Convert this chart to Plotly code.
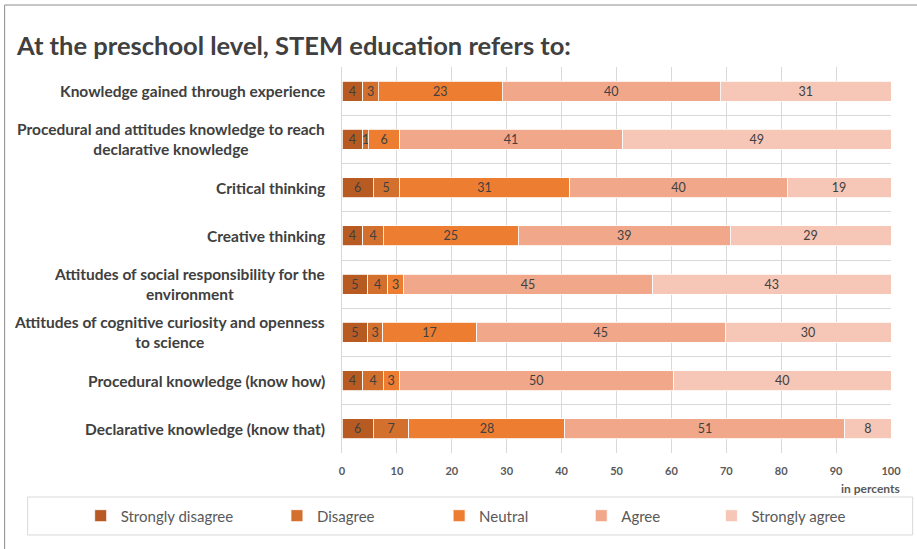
import plotly.graph_objects as go

categories = [
    "Knowledge gained through experience",
    "Procedural and attitudes knowledge to reach<br>declarative knowledge",
    "Critical thinking",
    "Creative thinking",
    "Attitudes of social responsibility for the<br>environment",
    "Attitudes of cognitive curiosity and openness<br>to science",
    "Procedural knowledge (know how)",
    "Declarative knowledge (know that)",
]
series_names = ["Strongly disagree", "Disagree", "Neutral", "Agree", "Strongly agree"]
strongly_disagree = [3.8, 3.8, 5.7, 3.8, 4.7, 4.7, 3.8, 5.7]
disagree = [2.8, 1.0, 4.7, 3.7, 3.6, 2.7, 3.7, 6.5]
neutral = [22.6, 5.7, 31.1, 24.6, 2.9, 17.1, 2.9, 28.4]
agree = [39.7, 40.6, 39.6, 38.6, 45.4, 45.3, 50.0, 51.0]
strongly_agree = [31.1, 48.9, 18.9, 29.3, 43.4, 30.2, 39.6, 8.4]
series_values = [strongly_disagree, disagree, neutral, agree, strongly_agree]
colors = ["#B75B23", "#D4702E", "#ED7D31", "#F1A88A", "#F6C6B7"]
x_ticks = [0, 10, 20, 30, 40, 50, 60, 70, 80, 90, 100]

FONT = "Lato"
legend_x = [-0.476, -0.1185, 0.1769, 0.4358, 0.6729]

fig = go.Figure()
for i, (name, vals, col) in enumerate(zip(series_names, series_values, colors)):
    lg = "legend" if i == 0 else f"legend{i+1}"
    fig.add_trace(go.Bar(
        y=categories, x=vals, name=name, orientation="h",
        marker=dict(color=col, line=dict(color="white", width=0.8)),
        text=vals, texttemplate="%{x:.0f}", textposition="inside",
        insidetextanchor="middle", textangle=0,
        textfont=dict(family=FONT, size=12.5, color="#404040"),
        legend=lg, showlegend=True, cliponaxis=False,
    ))

layout_legends = {}
for i in range(5):
    key = "legend" if i == 0 else f"legend{i+1}"
    layout_legends[key] = dict(
        x=legend_x[i], xanchor="left", y=-0.163, yanchor="middle",
        orientation="h", bgcolor="rgba(0,0,0,0)", visible=True,
        font=dict(family=FONT, size=15, color="#595959"),
    )

annotations = []
for c in categories:
    annotations.append(dict(
        x=0, xref="paper", xanchor="right", xshift=-15,
        y=c, yref="y", yanchor="middle", align="center",
        text=c, showarrow=False,
        font=dict(family=FONT, size=15.5, color="#404040", weight="bold"),
    ))
annotations.append(dict(
    x=1, xref="paper", xanchor="right", xshift=11, y=0, yref="paper", yshift=-35,
    yanchor="middle", text="in percents", showarrow=False,
    font=dict(family=FONT, size=12, color="#595959", weight="bold"),
))

fig.update_layout(
    width=917, height=549,
    margin=dict(l=342, r=26, t=67, b=96),
    paper_bgcolor="white", plot_bgcolor="white",
    showlegend=True,
    barmode="stack", bargap=0.59,
    title=dict(
        text="At the preschool level, STEM education refers to:",
        xref="container", x=17 / 917, xanchor="left",
        yref="container", y=1 - 46 / 549, yanchor="middle",
        font=dict(family=FONT, size=25.5, color="#404040", weight="bold"),
    ),
    uniformtext=dict(minsize=12, mode="show"),
    xaxis=dict(
        range=[0, 100], tickvals=x_ticks, ticktext=[str(t) for t in x_ticks],
        showgrid=True, gridcolor="#D9D9D9", gridwidth=1, zeroline=False,
        showline=False, ticks="", ticklabelstandoff=10,
        tickfont=dict(family=FONT, size=11, color="#595959", weight="bold"),
    ),
    yaxis=dict(
        type="category", categoryorder="array", categoryarray=categories,
        autorange="reversed", tickson="boundaries", showgrid=True,
        gridcolor="#D9D9D9", gridwidth=1, showticklabels=False, ticks="",
        showline=True, linecolor="#D9D9D9", zeroline=False,
    ),
    annotations=annotations,
    shapes=[
        dict(type="rect", xref="paper", yref="paper",
             x0=-0.5726, x1=1.0394, y0=-0.2124, y1=-0.114,
             line=dict(color="#D9D9D9", width=1), fillcolor="rgba(0,0,0,0)"),
        dict(type="rect", xref="paper", yref="paper",
             x0=-0.6145, x1=1.3, y0=-0.5, y1=1.1606,
             line=dict(color="#8C8C8C", width=1), fillcolor="rgba(0,0,0,0)"),
    ],
    **layout_legends,
)

fig.write_html(
    "out.html",
    config={"displayModeBar": False},
    post_script="document.body.style.margin='0';document.body.style.overflow='hidden';",
)
